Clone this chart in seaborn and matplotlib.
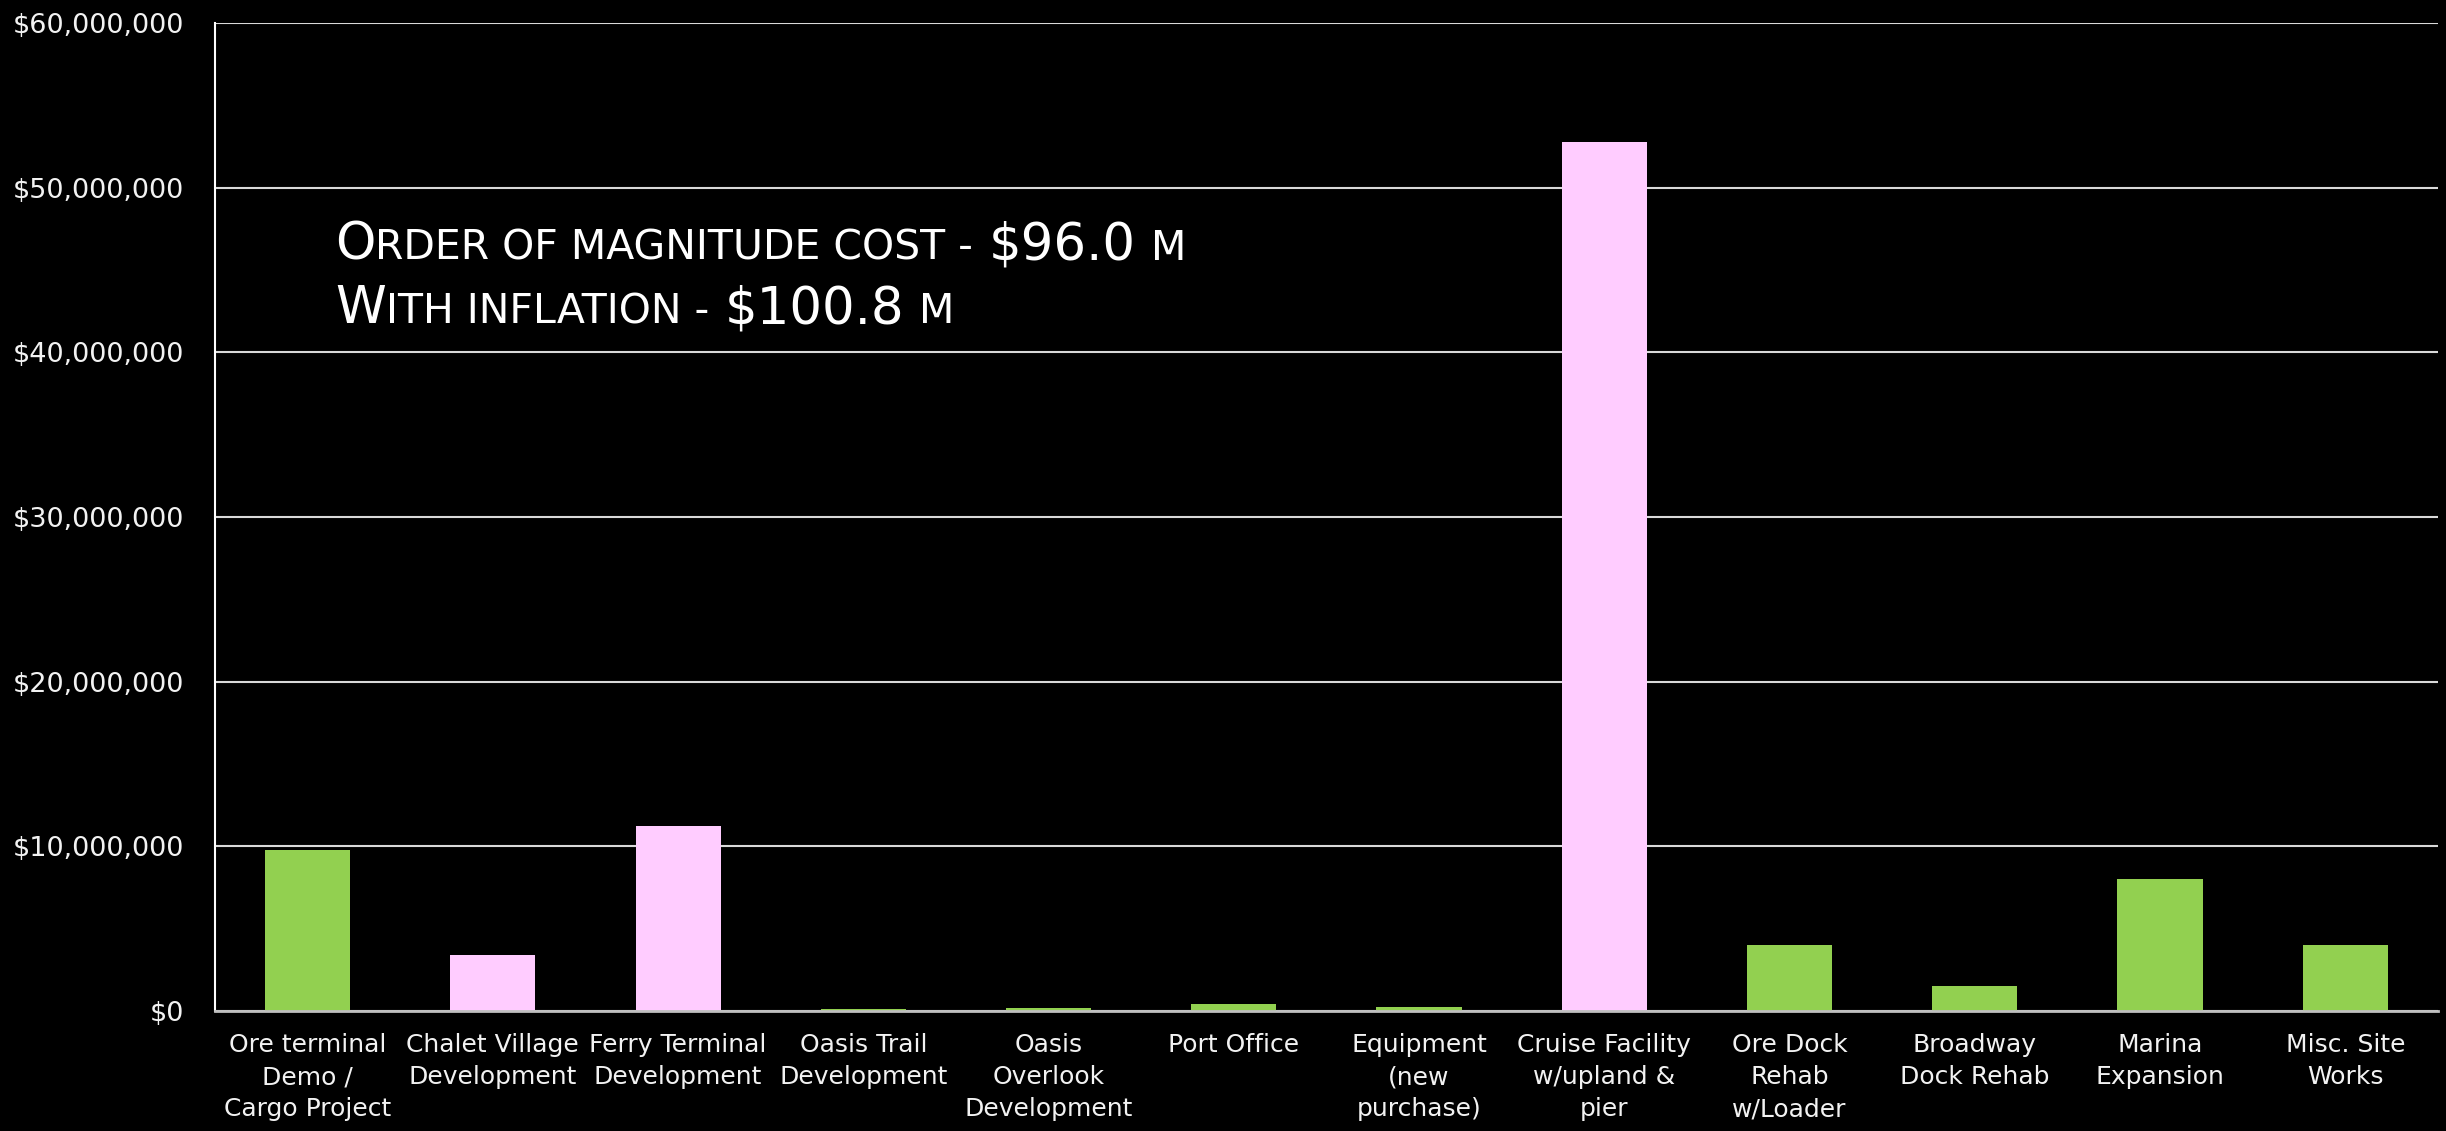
import matplotlib
matplotlib.use("Agg")
import matplotlib.pyplot as plt
import seaborn as sns
import pandas as pd
from matplotlib.offsetbox import TextArea, HPacker, VPacker, AnnotationBbox
from matplotlib.ticker import FuncFormatter, MultipleLocator

categories = [
    "Ore terminal\nDemo /\nCargo Project",
    "Chalet Village\nDevelopment",
    "Ferry Terminal\nDevelopment",
    "Oasis Trail\nDevelopment",
    "Oasis\nOverlook\nDevelopment",
    "Port Office",
    "Equipment\n(new\npurchase)",
    "Cruise Facility\nw/upland &\npier",
    "Ore Dock\nRehab\nw/Loader",
    "Broadway\nDock Rehab",
    "Marina\nExpansion",
    "Misc. Site\nWorks",
]
costs = [9_780_000, 3_400_000, 11_250_000, 150_000, 200_000, 450_000,
         220_000, 52_800_000, 4_000_000, 1_520_000, 8_000_000, 4_000_000]
bar_colors = ["#92D050", "#FFCCFF", "#FFCCFF", "#92D050", "#92D050", "#92D050",
              "#92D050", "#FFCCFF", "#92D050", "#92D050", "#92D050", "#92D050"]

note_line1 = [("O", "big"), ("RDER OF MAGNITUDE COST -", "small"), ("$96.0", "big"), ("M", "small")]
note_line2 = [("W", "big"), ("ITH INFLATION -", "small"), ("$100.8", "big"), ("M", "small")]

sns.set_theme(style="dark")
FONT = ["DejaVu Sans"]
plt.rcParams["font.family"] = FONT

fig = plt.figure(figsize=(24.46, 11.31), dpi=100, facecolor="black")
ax = fig.add_axes([0.0879, 0.1061, 0.9967 - 0.0879, 0.9797 - 0.1061])
ax.set_facecolor("black")

df = pd.DataFrame({"category": categories, "cost": costs})
sns.barplot(data=df, x="category", y="cost", hue="category",
            palette=bar_colors, width=0.46, saturation=1, legend=False,
            linewidth=0, edgecolor="none", ax=ax, zorder=3)

ax.set_ylim(0, 60_000_000)
ax.set_xlim(-0.5, len(categories) - 0.5)
ax.yaxis.set_major_locator(MultipleLocator(10_000_000))
ax.yaxis.set_major_formatter(FuncFormatter(lambda v, p: "${:,.0f}".format(v)))
ax.grid(axis="y", color="#D9D9D9", linewidth=1.5, zorder=0)
ax.grid(axis="x", visible=False)
ax.set_axisbelow(True)
ax.set_xlabel("")
ax.set_ylabel("")

for s in ["top", "right"]:
    ax.spines[s].set_visible(False)
ax.spines["left"].set_color("white")
ax.spines["left"].set_linewidth(1.5)
ax.spines["bottom"].set_color("#BFBFBF")
ax.spines["bottom"].set_linewidth(2)
ax.spines["bottom"].set_zorder(4)

ax.tick_params(axis="y", length=0, pad=22, labelsize=19.5, labelcolor="#F2F2F2")
ax.tick_params(axis="x", length=0, pad=16, labelsize=18, labelcolor="#F2F2F2")
for lab in ax.get_xticklabels():
    lab.set_multialignment("center")
    lab.set_linespacing(1.42)

sizes = {"big": 37, "small": 29.5}


def make_line(parts):
    areas = []
    for txt, kind in parts:
        areas.append(TextArea(txt, textprops=dict(color="white", fontsize=sizes[kind],
                                                  family=FONT)))
    first = HPacker(children=areas[:2], align="baseline", pad=0, sep=0)
    return HPacker(children=[first] + areas[2:], align="baseline", pad=0, sep=11)


box = VPacker(children=[make_line(note_line1), make_line(note_line2)],
              align="left", pad=0, sep=10)
ab = AnnotationBbox(box, (0.054, 0.800), xycoords="axes fraction",
                    box_alignment=(0, 1), frameon=False, pad=0)
ax.add_artist(ab)

fig.savefig("out.png", dpi=100, facecolor="black")
